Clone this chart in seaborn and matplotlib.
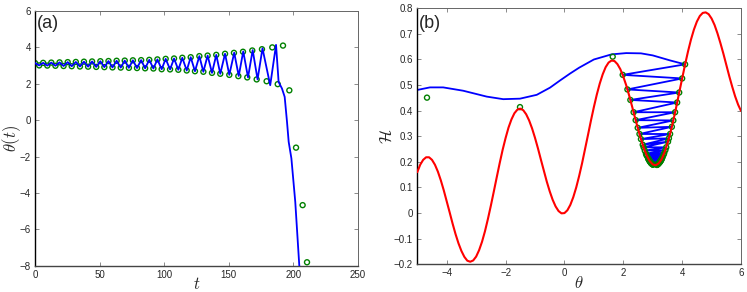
import numpy as np
import matplotlib
matplotlib.use("Agg")
import matplotlib.pyplot as plt
import seaborn as sns

# green circles: turning points of the map, (a) theta vs t, (b) H vs theta
t_circ = [0, 3.2, 6.3, 9.5, 12.6, 15.8, 19.0, 22.1, 25.3, 28.4,
          31.6, 34.8, 37.9, 41.1, 44.2, 47.4, 50.6, 53.7, 56.9, 60.0,
          63.2, 66.4, 69.5, 72.7, 75.8, 79.0, 82.2, 85.3, 88.5, 91.7,
          94.8, 98.1, 101.2, 104.6, 107.7, 111.0, 114.1, 117.5, 120.6, 123.9,
          127.3, 130.4, 133.7, 137.1, 140.4, 143.5, 147.2, 150.5, 154.1, 157.5,
          161.1, 164.4, 168.3, 171.7, 175.8, 179.4, 183.8, 188.0, 192.1,
          197.0, 202.2, 207.3, 210.7]
theta_circ = [3.14, 3.01, 3.15, 3.00, 3.165, 2.99, 3.177, 2.977, 3.19, 2.965,
              3.20, 2.95, 3.215, 2.94, 3.227, 2.927, 3.24, 2.915, 3.25, 2.90,
              3.265, 2.89, 3.275, 2.877, 3.29, 2.865, 3.30, 2.85, 3.315, 2.84,
              3.34, 2.80, 3.37, 2.79, 3.39, 2.77, 3.43, 2.73, 3.46, 2.69,
              3.52, 2.66, 3.55, 2.60, 3.59, 2.55, 3.65, 2.49, 3.70, 2.42,
              3.76, 2.35, 3.83, 2.24, 3.90, 2.14, 4.00, 1.98, 4.10,
              1.64, -1.51, -4.67, -7.81]
H_circ = [0.188, 0.189, 0.189, 0.190, 0.190, 0.191, 0.191, 0.192, 0.193, 0.193,
          0.194, 0.195, 0.196, 0.196, 0.197, 0.198, 0.199, 0.200, 0.201, 0.203,
          0.203, 0.204, 0.205, 0.207, 0.208, 0.209, 0.210, 0.212, 0.214, 0.215,
          0.220, 0.224, 0.228, 0.227, 0.234, 0.232, 0.246, 0.244, 0.257, 0.257,
          0.279, 0.267, 0.292, 0.289, 0.309, 0.309, 0.337, 0.333, 0.362, 0.363,
          0.394, 0.394, 0.432, 0.442, 0.471, 0.483, 0.526, 0.540, 0.581,
          0.611, 0.414, 0.451, np.nan]

# blue line in (a) after t ~ 150 (it follows the circles before that)
t_tail = [154.3, 157.8, 161.3, 165.0, 168.6, 172.4, 176.2, 182.2, 186.7, 188.7,
          191.3, 193.4, 195.2, 196.5, 198.6, 201.6, 204.7, 206.0]
theta_tail = [3.71, 2.43, 3.78, 2.35, 3.85, 2.24, 3.95, 1.92, 4.14, 2.10,
              1.74, 1.28, -0.09, -1.19, -2.10, -4.49, -7.97, -9.0]

# blue line in (b) after the last right turning point
theta_tail_b = [3.60, 3.00, 2.60, 2.10, 1.60, 1.00, 0.50, 0.19, -0.15, -0.49,
                -0.94, -1.51, -2.08, -2.64, -3.44, -4.12, -4.57, -5.0]
H_tail_b = [0.596, 0.616, 0.624, 0.625, 0.620, 0.600, 0.568, 0.545, 0.518, 0.490,
            0.462, 0.447, 0.445, 0.455, 0.478, 0.491, 0.491, 0.481]

# red curve H(theta)
theta_red = [-5.0, -4.9, -4.8, -4.7, -4.6, -4.5, -4.4, -4.3, -4.2, -4.1,
             -4.0, -3.9, -3.8, -3.7, -3.6, -3.5, -3.4, -3.3, -3.2, -3.1,
             -3.0, -2.9, -2.8, -2.7, -2.6, -2.5, -2.4, -2.3, -2.2, -2.1,
             -2.0, -1.9, -1.8, -1.7, -1.6, -1.5, -1.4, -1.3, -1.2, -1.1,
             -1.0, -0.9, -0.8, -0.7, -0.6, -0.5, -0.4, -0.3, -0.2, -0.1,
             0.0, 0.1, 0.2, 0.3, 0.4, 0.5, 0.6, 0.7, 0.8, 0.9,
             1.0, 1.1, 1.2, 1.3, 1.4, 1.5, 1.6, 1.7, 1.8, 1.9,
             2.0, 2.1, 2.2, 2.3, 2.4, 2.5, 2.6, 2.7, 2.8, 2.9,
             3.0, 3.1, 3.2, 3.3, 3.4, 3.5, 3.6, 3.7, 3.8, 3.9,
             4.0, 4.1, 4.2, 4.3, 4.4, 4.5, 4.6, 4.7, 4.8, 4.9,
             5.0, 5.1, 5.2, 5.3, 5.4, 5.5, 5.6, 5.7, 5.8, 5.9, 6.0]
H_red = [0.160, 0.189, 0.208, 0.218, 0.218, 0.208, 0.189, 0.162, 0.128, 0.089,
         0.046, 0.003, -0.041, -0.082, -0.118, -0.148, -0.171, -0.186, -0.190, -0.185,
         -0.170, -0.145, -0.112, -0.071, -0.023, 0.029, 0.084, 0.140, 0.195, 0.247,
         0.293, 0.334, 0.366, 0.390, 0.404, 0.408, 0.402, 0.386, 0.362, 0.331,
         0.294, 0.253, 0.209, 0.166, 0.123, 0.085, 0.052, 0.026, 0.008, -0.001,
         0.000, 0.011, 0.032, 0.062, 0.100, 0.145, 0.195, 0.250, 0.305, 0.361,
         0.414, 0.463, 0.506, 0.542, 0.570, 0.588, 0.596, 0.594, 0.582, 0.562,
         0.533, 0.499, 0.459, 0.416, 0.372, 0.329, 0.289, 0.253, 0.224, 0.203,
         0.190, 0.187, 0.194, 0.210, 0.237, 0.272, 0.314, 0.362, 0.415, 0.471,
         0.526, 0.581, 0.632, 0.678, 0.717, 0.748, 0.770, 0.782, 0.784, 0.777,
         0.760, 0.735, 0.702, 0.664, 0.623, 0.579, 0.535, 0.494, 0.456, 0.424, 0.399]

sns.set_style("ticks")
plt.rcParams['font.family'] = ['Liberation Sans', 'DejaVu Sans']
plt.rcParams['mathtext.fontset'] = 'cm'

n_a = 48  # circles that the blue line of (a) passes through
n_b = 59  # circles on the zigzag of (b)
t_line = t_circ[:n_a] + t_tail
theta_line = theta_circ[:n_a] + theta_tail
theta_line_b = theta_circ[:n_b] + theta_tail_b
H_line_b = H_circ[:n_b] + H_tail_b

fig = plt.figure(figsize=(7.47, 2.92), dpi=100)
ax1 = fig.add_axes([0.0469, 0.090, 0.432, 0.8723])
ax2 = fig.add_axes([0.5586, 0.0949, 0.4334, 0.8767])

green = '#008000'

# (a)
sns.scatterplot(x=t_circ, y=theta_circ, ax=ax1, marker='o', s=13,
                facecolor='none', edgecolor=green, linewidth=1.0, zorder=2)
sns.lineplot(x=t_line, y=theta_line, ax=ax1, sort=False, estimator=None,
             color='#0000ff', lw=1.3, zorder=3)
ax1.set_xlim(0, 250)
ax1.set_ylim(-8, 6)
ax1.set_xticks([0, 50, 100, 150, 200, 250])
ax1.set_yticks([-8, -6, -4, -2, 0, 2, 4, 6])
ax1.set_xlabel(r'$t$', fontsize=12)
ax1.set_ylabel(r'$\theta(t)$', fontsize=12)
ax1.text(0.006, 0.985, '(a)', transform=ax1.transAxes, ha='left', va='top', fontsize=13)

# (b)
sns.lineplot(x=theta_line_b, y=H_line_b, ax=ax2, sort=False, estimator=None,
             color='#0000ff', lw=1.3, zorder=2)
sns.scatterplot(x=theta_circ, y=H_circ, ax=ax2, marker='o', s=13,
                facecolor='none', edgecolor=green, linewidth=1.0, zorder=3)
sns.lineplot(x=theta_red, y=H_red, ax=ax2, sort=False, estimator=None,
             color='#ff0000', lw=1.5, zorder=4)
ax2.set_xlim(-5, 6)
ax2.set_ylim(-0.2, 0.8)
ax2.set_xticks([-4, -2, 0, 2, 4, 6])
ax2.set_yticks([-0.2, -0.1, 0, 0.1, 0.2, 0.3, 0.4, 0.5, 0.6, 0.7, 0.8])
ax2.set_yticklabels(['\u22120.2', '\u22120.1', '0', '0.1', '0.2', '0.3', '0.4',
                     '0.5', '0.6', '0.7', '0.8'])
ax2.set_xlabel(r'$\theta$', fontsize=12)
ax2.set_ylabel(r'$\mathcal{H}$', fontsize=12)
ax2.text(0.006, 0.975, '(b)', transform=ax2.transAxes, ha='left', va='top', fontsize=13)

# axis labels centred on fixed spots
for ax, xy, yx in ((ax1, -0.07, -0.071), (ax2, -0.074, -0.094)):
    ax.xaxis.label.set_va('center')
    ax.yaxis.label.set_va('center')
    ax.yaxis.label.set_ha('center')
    ax.xaxis.set_label_coords(0.5, xy)
    ax.yaxis.set_label_coords(yx, 0.5)

for ax in (ax1, ax2):
    ax.tick_params(direction='in', top=True, right=True, length=3, width=0.6,
                   color='#777777', labelsize=7, pad=3)
    ax.spines['left'].set_color('black')
    ax.spines['bottom'].set_color('#444444')
    ax.spines['left'].set_linewidth(1.0)
    ax.spines['bottom'].set_linewidth(1.0)
    for s in ('top', 'right'):
        ax.spines[s].set_color('#666666')
        ax.spines[s].set_linewidth(0.7)
    ax.set_facecolor('white')

fig.savefig('out.png', dpi=100, facecolor='white')
